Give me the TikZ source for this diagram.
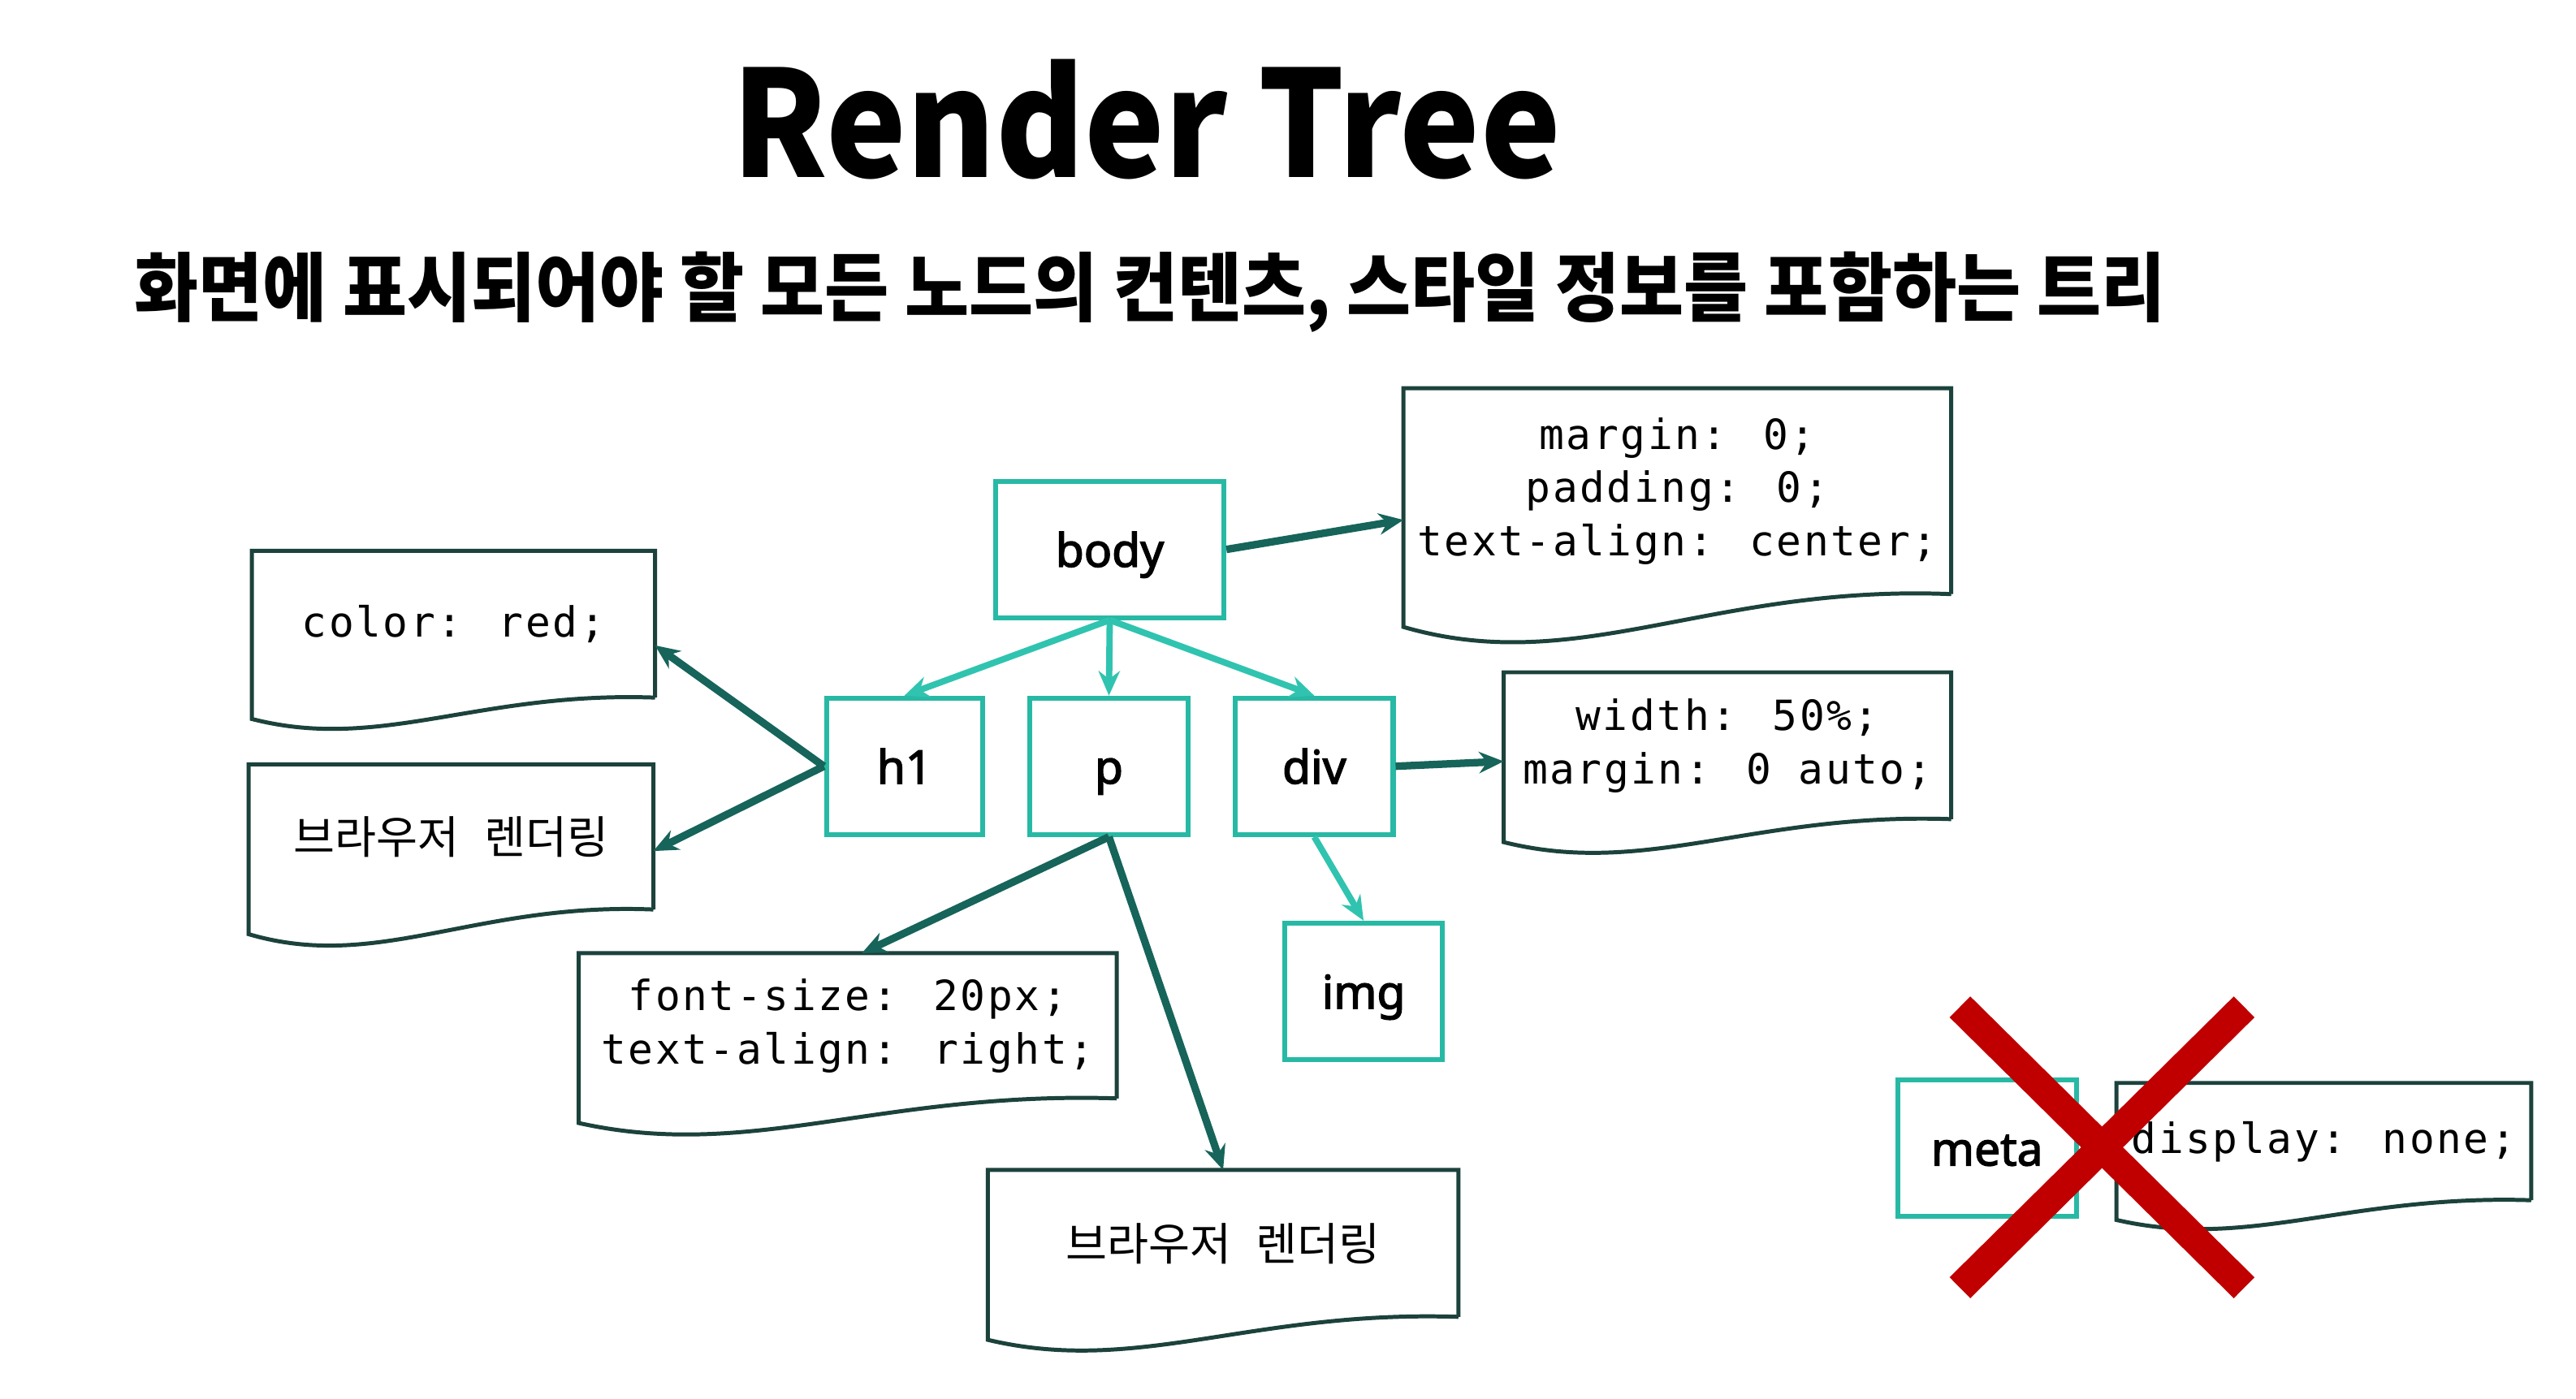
\documentclass[tikz,border=0pt]{standalone}
\usepackage{fontspec}
\setmainfont{Noto Sans}
\newfontfamily\krfont{Noto Sans CJK KR}
\newfontfamily\codefont[LetterSpace=5]{DejaVu Sans Mono}
\newfontfamily\tagfont[FakeBold=2.5]{Noto Sans}
\usetikzlibrary{calc,arrows.meta}

\definecolor{tagline}{RGB}{40,185,165}
\definecolor{treearrow}{RGB}{48,196,176}
\definecolor{stylearrow}{RGB}{22,100,90}
\definecolor{docedge}{RGB}{28,66,60}
\definecolor{crossred}{RGB}{192,0,0}

% outline of a style sheet: top part is the node, wavy bottom below it
\newcommand{\docshape}[2]{%
\draw[docline] (#1.south east) -- (#1.north east) -- (#1.north west) -- ($(#1.south west)+(0,#2)$)
  .. controls ($(#1.south west)!0.32!(#1.south east)+(0,2.55*#2)$) and ($(#1.south west)!0.56!(#1.south east)+(0,-0.3*#2)$) .. (#1.south east);}

\begin{document}
\begin{tikzpicture}[x=0.1mm,y=-0.1mm,
  tag/.style={draw=tagline,line width=0.85pt,minimum height=8.3mm,inner sep=0pt,text height=7pt,text depth=1pt,font=\tagfont\fontsize{8}{9.6}\selectfont},
  doc/.style={inner sep=0pt,align=center,font=\codefont\fontsize{7.2}{9.25}\selectfont},
  krdoc/.style={doc,font=\krfont\fontsize{7.8}{10}\selectfont},
  docline/.style={draw=docedge,line width=0.7pt},
  child/.style={-{Stealth[length=1.5mm,width=1.3mm]},draw=treearrow,line width=1.1pt},
  styled/.style={-{Stealth[length=1.5mm,width=1.3mm]},draw=stylearrow,line width=1.3pt},
  cross/.style={draw=crossred,line width=5.1pt}]
\useasboundingbox (0,0) rectangle (1568,851.7);

\node[anchor=base,font=\krfont\bfseries\fontsize{25.6}{30}\selectfont] (title) at (698,108) {\scalebox{0.914}[1]{Render Tree}};
\node[font=\krfont\bfseries\fontsize{13}{15}\selectfont] (subtitle) at (700,178)
  {\scalebox{0.93}[1]{화면에 표시되어야 할 모든 노드의 컨텐츠, 스타일 정보를 포함하는 트리}};

\node[tag,minimum width=13.9mm] (body) at (675.5,334.5) {body};
\node[tag,minimum width=9.5mm] (h1) at (550.5,466.5) {h1};
\node[tag,minimum width=9.6mm] (p) at (675,466.5) {p};
\node[tag,minimum width=9.6mm] (div) at (800,466.5) {div};
\node[tag,minimum width=9.6mm] (img) at (830,603.5) {img};
\node[tag,minimum width=10.9mm] (meta) at (1209.5,699) {meta};

\node[doc,minimum width=33.2mm,minimum height=12.4mm] (bodycss) at (1021,299) {margin: 0;\\padding: 0;\\text-align: center;};
\node[doc,minimum width=27.1mm,minimum height=8.8mm] (divcss) at (1051.5,454) {width: 50\%;\\margin: 0 auto;};
\node[doc,minimum width=24.4mm,minimum height=8.8mm] (h1css) at (276,380) {color: red;};
\node[krdoc,minimum width=24.5mm,minimum height=8.7mm] (h1txt) at (274.5,509.5) {브라우저\hspace{0.55em}렌더링};
\node[doc,minimum width=32.6mm,minimum height=8.7mm] (pcss) at (516,624.5) {font-size: 20px;\\text-align: right;};
\node[krdoc,minimum width=28.5mm,minimum height=8.8mm] (ptxt) at (744.5,757) {브라우저\hspace{0.55em}렌더링};
\node[doc,minimum width=25.1mm,minimum height=7mm] (metacss) at (1414.5,695) {display: none;};

\docshape{bodycss}{20}
\docshape{divcss}{14}
\docshape{h1css}{13}
\docshape{h1txt}{15}
\docshape{pcss}{15}
\docshape{ptxt}{14}
\docshape{metacss}{12}

\draw[child] (body.south) -- (h1.north);
\draw[child] (body.south) -- (p.north);
\draw[child] (body.south) -- (div.north);
\draw[child] (div.south) -- (img.north);

\draw[styled] (body.east) -- (bodycss.186);
\draw[styled] (div.east) -- (divcss.184);
\draw[styled] (h1.west) -- (h1css.-6);
\draw[styled] (h1.west) -- (h1txt.-4);
\draw[styled] (p.south) -- (pcss.79);
\draw[styled] (p.south) -- (ptxt.north);

\draw[cross] (1193,613) -- (1366,784);
\draw[cross] (1366,613) -- (1193,784);
\end{tikzpicture}
\end{document}
